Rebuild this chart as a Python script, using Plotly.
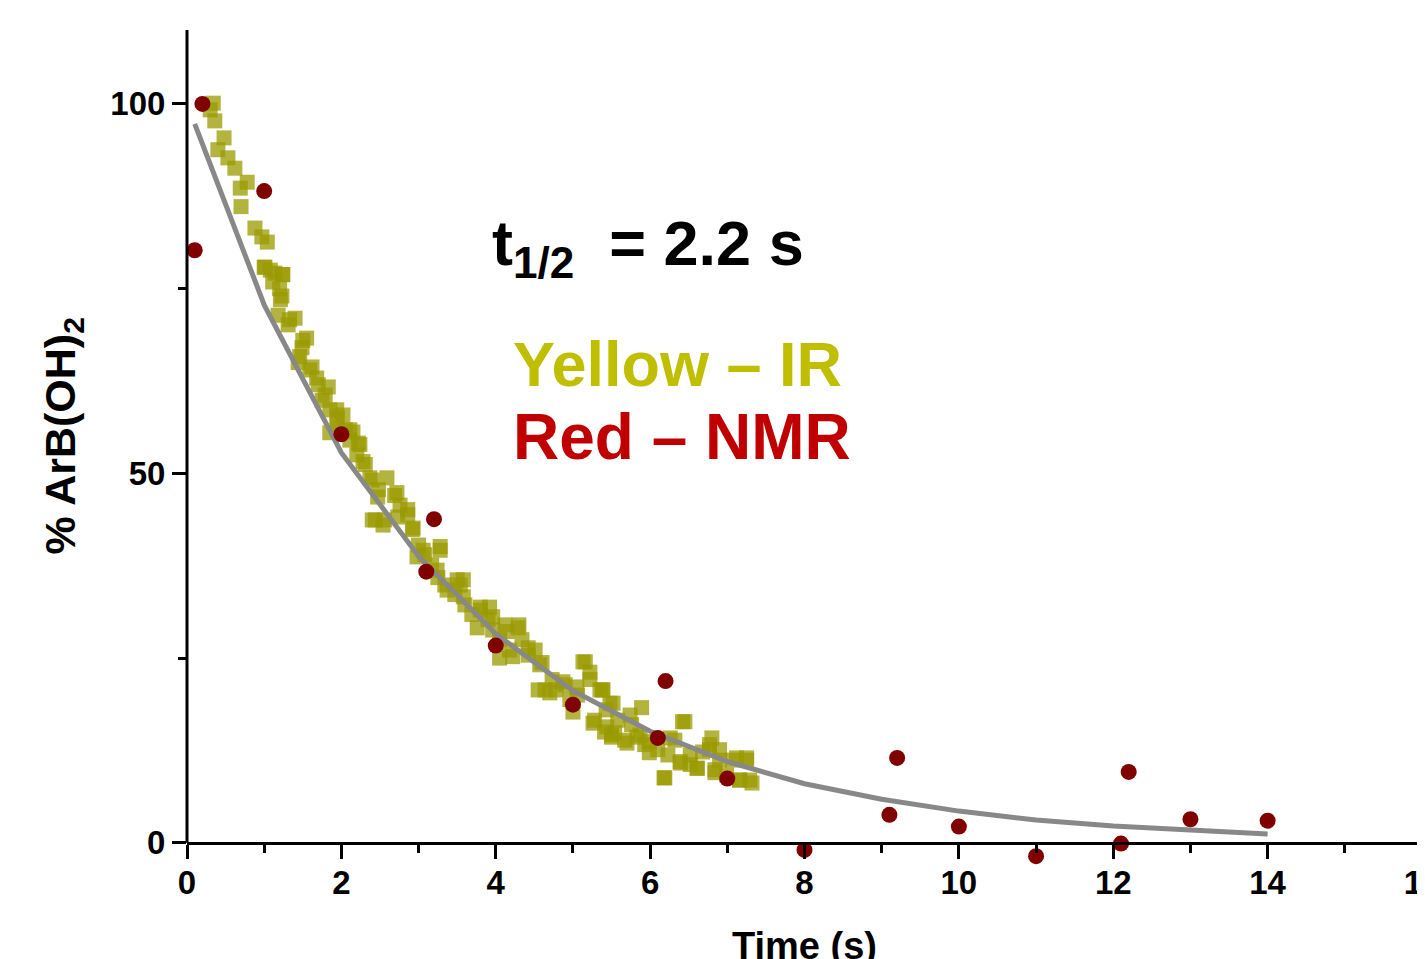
import plotly.graph_objects as go

# IR data (yellow squares)
ir_time = [0.30, 0.34, 0.36, 0.40, 0.48, 0.53, 0.62, 0.69, 0.70, 0.78, 0.88, 0.97, 1.00, 1.01, 1.04, 1.08,
           1.11, 1.14, 1.18, 1.20, 1.21, 1.23, 1.24, 1.24, 1.31, 1.33, 1.40, 1.44, 1.46, 1.49, 1.50, 1.55,
           1.59, 1.62, 1.68, 1.70, 1.75, 1.79, 1.83, 1.85, 1.85, 1.94, 1.94, 1.95, 2.02, 2.05, 2.11, 2.11,
           2.15, 2.20, 2.22, 2.24, 2.28, 2.31, 2.37, 2.40, 2.40, 2.44, 2.47, 2.48, 2.54, 2.56, 2.59, 2.69,
           2.72, 2.73, 2.76, 2.86, 2.86, 2.92, 2.93, 2.98, 3.00, 3.06, 3.08, 3.17, 3.24, 3.25, 3.28, 3.28,
           3.34, 3.37, 3.47, 3.50, 3.54, 3.58, 3.58, 3.60, 3.69, 3.76, 3.80, 3.80, 3.90, 3.92, 3.96, 3.96,
           4.05, 4.05, 4.12, 4.15, 4.18, 4.22, 4.29, 4.30, 4.34, 4.42, 4.42, 4.51, 4.55, 4.57, 4.60, 4.64,
           4.70, 4.73, 4.78, 4.87, 4.90, 4.96, 5.00, 5.05, 5.06, 5.13, 5.16, 5.22, 5.22, 5.26, 5.28, 5.35,
           5.38, 5.39, 5.41, 5.43, 5.44, 5.48, 5.50, 5.50, 5.52, 5.54, 5.58, 5.67, 5.70, 5.74, 5.76, 5.83,
           5.87, 5.89, 5.93, 5.99, 5.99, 6.10, 6.18, 6.19, 6.23, 6.26, 6.32, 6.39, 6.39, 6.42, 6.45, 6.52,
           6.52, 6.61, 6.61, 6.68, 6.77, 6.77, 6.80, 6.84, 6.84, 6.90, 6.90, 6.99, 7.07, 7.12, 7.16, 7.16,
           7.25, 7.25, 7.29, 7.32]
ir_pct = [99.2, 100.1, 97.7, 93.8, 95.4, 92.7, 91.3, 88.6, 86.1, 89.4, 83.2, 82.0, 77.9, 77.9, 81.3, 77.5,
          75.9, 77.1, 71.4, 75.0, 73.5, 74.0, 76.9, 76.9, 70.1, 70.8, 71.0, 65.0, 65.8, 67.0, 68.0, 68.3,
          64.0, 64.4, 62.9, 62.0, 59.9, 60.6, 61.7, 58.6, 55.5, 56.6, 58.6, 57.5, 57.9, 55.9, 54.5, 55.9,
          55.6, 52.5, 54.1, 53.9, 51.6, 51.2, 49.4, 49.1, 43.7, 43.7, 46.8, 47.8, 43.0, 43.7, 49.4, 47.0,
          47.4, 44.1, 45.7, 44.4, 45.1, 42.4, 42.6, 38.7, 40.3, 39.6, 39.0, 37.6, 36.9, 35.9, 39.6, 40.1,
          34.9, 34.2, 33.6, 35.6, 34.9, 35.6, 33.3, 32.2, 30.9, 29.1, 31.5, 31.9, 30.2, 31.9, 28.8, 30.6,
          27.5, 25.0, 29.5, 28.6, 26.1, 25.2, 29.1, 29.5, 27.5, 25.4, 26.4, 26.1, 20.7, 24.1, 24.4, 20.7,
          20.3, 22.1, 20.7, 21.8, 21.4, 19.4, 17.7, 21.1, 20.0, 24.5, 24.5, 22.1, 23.1, 16.2, 16.6, 20.7,
          20.7, 20.7, 15.0, 18.0, 15.7, 18.9, 14.6, 14.3, 18.9, 14.9, 16.6, 13.9, 13.5, 17.3, 16.0, 14.3,
          14.6, 18.3, 13.3, 13.7, 12.2, 12.6, 8.8, 8.8, 11.9, 14.2, 13.9, 11.0, 10.8, 16.4, 16.4, 10.6,
          11.9, 10.1, 10.1, 12.3, 13.3, 12.6, 14.2, 9.9, 9.5, 11.2, 12.6, 9.2, 11.2, 11.5, 8.5, 8.5,
          11.2, 11.5, 8.5, 8.1]

# NMR data (red circles)
nmr_time = [0.1, 0.2, 1.0, 2.0, 3.1, 3.2, 4.0, 5.0, 6.1, 6.2, 7.0, 8.0, 9.1, 9.2, 10.0, 11.0, 12.1, 12.2, 13.0, 14.0]
nmr_pct = [80.2, 100.0, 88.2, 55.3, 36.7, 43.8, 26.7, 18.7, 14.2, 21.9, 8.7, -0.95, 3.8, 11.5, 2.2, -1.8, -0.1, 9.6, 3.2, 3.0]

# Fit curve (grey line)
fit_time = [0.1, 1, 2, 3, 4, 5, 6, 7, 8, 9, 10, 11, 12, 13, 14]
fit_pct = [97.3, 72.8, 52.8, 38.8, 28.3, 20.6, 15.1, 11.0, 8.0, 5.9, 4.3, 3.1, 2.3, 1.7, 1.2]

x_ticks = [0, 2, 4, 6, 8, 10, 12, 14, 16]
y_ticks = [0, 50, 100]

FONT = "Liberation Sans"
Y_MIN, Y_MAX = -3.4, 110
X_MIN, X_MAX = 0, 16
AXIS_POS = (0 - Y_MIN) / (Y_MAX - Y_MIN)

fig = go.Figure()
fig.add_trace(go.Scatter(
    x=ir_time, y=ir_pct, mode="markers",
    marker=dict(symbol="square", size=15, color="rgba(153,153,0,0.75)", line=dict(width=0)),
    cliponaxis=False, showlegend=False))
fig.add_trace(go.Scatter(
    x=fit_time, y=fit_pct, mode="lines",
    line=dict(color="#888888", width=5), showlegend=False))
fig.add_trace(go.Scatter(
    x=nmr_time, y=nmr_pct, mode="markers",
    marker=dict(symbol="circle", size=16, color="#800000", line=dict(width=0)),
    cliponaxis=False, showlegend=False))

tick_common = dict(
    ticks="outside", ticklen=14, tickwidth=3, tickcolor="black",
    showgrid=False, zeroline=False,
    tickfont=dict(family=FONT, size=33, color="black", weight="bold"),
)

fig.update_xaxes(
    range=[X_MIN, X_MAX], tickmode="array", tickvals=x_ticks, ticktext=[str(v) for v in x_ticks],
    showline=True, linecolor="black", linewidth=3,
    anchor="free", position=AXIS_POS, ticklabeloverflow="allow", ticklabelstandoff=-4,
    minor=dict(dtick=1, ticks="outside", ticklen=8, tickwidth=3, tickcolor="black"),
    title=dict(text="Time (s)", font=dict(family=FONT, size=38, color="black", weight="bold"), standoff=32),
    **tick_common)
fig.update_yaxes(
    range=[Y_MIN, Y_MAX], tickmode="array", tickvals=y_ticks, ticktext=[str(v) for v in y_ticks],
    showline=False,
    minor=dict(tick0=0, dtick=25, ticks="outside", ticklen=8, tickwidth=3, tickcolor="black"),
    **tick_common)

# y axis line from the x axis (y=0) to the top of the plot
fig.add_shape(type="line", xref="paper", yref="paper", x0=0, x1=0, y0=AXIS_POS, y1=1,
              line=dict(color="black", width=3), layer="above")

PLOT_LEFT, PLOT_W = 187.0, 1235.0
PLOT_BOTTOM, PLOT_H = 868.1, 838.1

def px_x(p):
    return (p - PLOT_LEFT) / PLOT_W

def px_y(p):
    return (PLOT_BOTTOM - p) / PLOT_H

# y axis title (centred on the 0-110 span)
fig.add_annotation(x=px_x(63), y=px_y(436.5), xref="paper", yref="paper", xanchor="center", yanchor="middle",
                   text="% ArB(OH)<sub>2</sub>", textangle=-90, showarrow=False,
                   font=dict(family=FONT, size=43, color="black", weight="bold"))

fig.add_annotation(x=px_x(490), y=px_y(248), xref="paper", yref="paper", xanchor="left", yanchor="middle",
                   text="t<sub>1/2</sub>  = 2.2 s", showarrow=False,
                   font=dict(family=FONT, size=63, color="black", weight="bold"))
fig.add_annotation(x=px_x(511), y=px_y(364), xref="paper", yref="paper", xanchor="left", yanchor="middle",
                   text="Yellow – IR", showarrow=False,
                   font=dict(family=FONT, size=63, color="#bfbf00", weight="bold"))
fig.add_annotation(x=px_x(511), y=px_y(437), xref="paper", yref="paper", xanchor="left", yanchor="middle",
                   text="Red – NMR", showarrow=False,
                   font=dict(family=FONT, size=64, color="#c00000", weight="bold"))

# page is offset by the default 8px body margin; compensate
fig.update_layout(
    width=1425, height=959,
    margin=dict(l=179, r=11, t=22, b=99, autoexpand=False),
    plot_bgcolor="white", paper_bgcolor="white",
)

fig.write_html("out.html")
